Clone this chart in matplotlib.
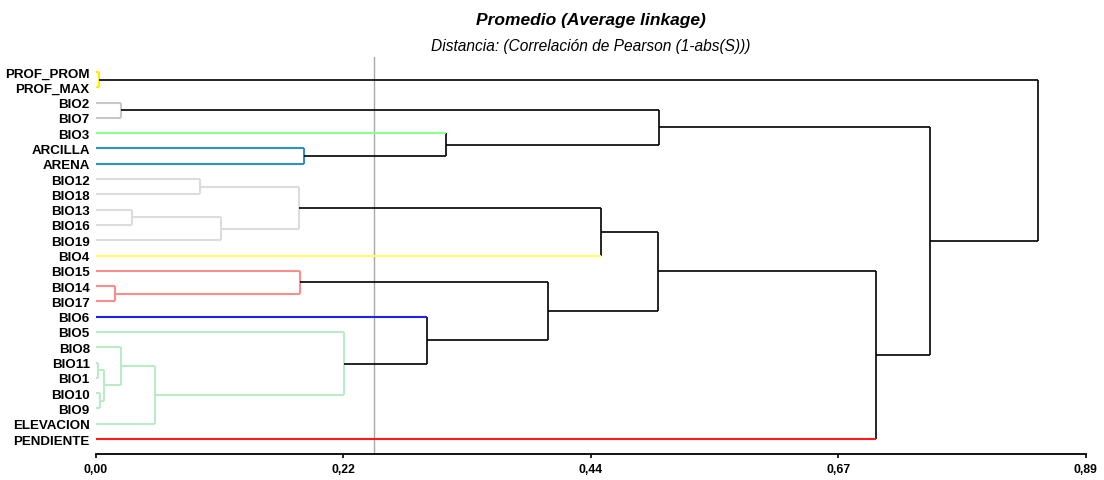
import matplotlib
matplotlib.use("Agg")
import matplotlib.pyplot as plt

plt.rcParams['font.family'] = ['Liberation Sans', 'DejaVu Sans']

# hojas del dendrograma, en el orden de arriba hacia abajo
leaves = ["PROF_PROM", "PROF_MAX", "BIO2", "BIO7", "BIO3", "ARCILLA", "ARENA",
          "BIO12", "BIO18", "BIO13", "BIO16", "BIO19", "BIO4", "BIO15", "BIO14",
          "BIO17", "BIO6", "BIO5", "BIO8", "BIO11", "BIO1", "BIO10", "BIO9",
          "ELEVACION", "PENDIENTE"]

# uniones (nodo 25 en adelante): hijo superior, hijo inferior, distancia
merge_a = [19, 0, 21, 25, 14, 2, 18, 9, 31, 7, 32, 34, 13, 5, 17, 16, 4, 37,
           36, 43, 30, 44, 45, 26]
merge_b = [20, 1, 22, 27, 15, 3, 28, 10, 23, 8, 11, 35, 29, 6, 33, 39, 38, 40,
           12, 42, 41, 24, 46, 47]
merge_h = [0.0021, 0.0027, 0.0039, 0.0072, 0.0174, 0.0225, 0.0228, 0.0321,
           0.0533, 0.0935, 0.1124, 0.1826, 0.1837, 0.1873, 0.2228, 0.2977,
           0.3147, 0.4062, 0.4541, 0.5054, 0.5067, 0.7012, 0.7497, 0.8474]

cut = 0.25
x_ticks = [0.0, 0.2225, 0.445, 0.6675, 0.89]
x_ticklabels = ["0,00", "0,22", "0,44", "0,67", "0,89"]

# colores de los grupos (de arriba hacia abajo)
group_colors = ["#FFEE00", "#C8C8C8", "#8CFF8C", "#2E8FCB", "#DCDCDC",
                "#FFFF66", "#FF8C8C", "#2020F0", "#B8EBC6", "#FF1A1A"]

n = len(leaves)
height = [0.0] * n + list(merge_h)
ypos = [float(i) for i in range(n)]
children = {}
for k in range(len(merge_h)):
    a, b = merge_a[k], merge_b[k]
    children[n + k] = (a, b)
    ypos.append((ypos[a] + ypos[b]) / 2.0)
root = n + len(merge_h) - 1

# asignar grupo a cada nodo por debajo del corte
group = {}
counter = [0]

def walk(node, g):
    if g is None and height[node] < cut:
        g = counter[0]
        counter[0] += 1
    if g is not None:
        group[node] = g
    if node in children:
        for c in children[node]:
            walk(c, g)

walk(root, None)

fig = plt.figure(figsize=(11.04, 4.81), dpi=100)
ax = fig.add_axes([96 / 1104, 1 - 455.3 / 481, 989.7 / 1104, 397.6 / 481])

ax.axvline(cut, color="#A8A8A8", lw=1.0, zorder=1)

for p, (a, b) in children.items():
    hp = height[p]
    if p in group:
        col_p = group_colors[group[p]]
    else:
        col_p = "black"
    lw_p = 1.5 if p in group else 1.2
    ax.plot([hp, hp], [ypos[a], ypos[b]], color=col_p, lw=lw_p,
            solid_capstyle="butt", zorder=2)
    for c in (a, b):
        if p in group:
            col, lw = col_p, 1.5
        elif c < n:
            col, lw = group_colors[group[c]], 1.5
        else:
            col, lw = "black", 1.2
        ax.plot([height[c], hp], [ypos[c], ypos[c]], color=col, lw=lw,
                solid_capstyle="butt", zorder=2)

ax.set_xlim(0, 0.89)
ax.set_ylim(n, -1)
ax.set_yticks(range(n))
ax.set_yticklabels(leaves, fontweight="bold", fontsize=9.6)
ax.tick_params(axis="y", length=0, pad=4.5)
ax.set_xticks(x_ticks)
ax.set_xticklabels(x_ticklabels, fontweight="bold", fontsize=8.8)
ax.tick_params(axis="x", length=3, width=1.2, pad=3.5, direction="out")
for s in ["top", "right", "left"]:
    ax.spines[s].set_visible(False)
ax.spines["bottom"].set_linewidth(1.3)

fig.text(591 / 1104, 1 - 20 / 481, "Promedio (Average linkage)",
         ha="center", va="center", fontsize=12.5, fontweight="bold", style="italic")
fig.text(591 / 1104, 1 - 47 / 481, "Distancia: (Correlación de Pearson (1-abs(S)))",
         ha="center", va="center", fontsize=11.2, style="italic")

fig.savefig("out.png", dpi=100)
